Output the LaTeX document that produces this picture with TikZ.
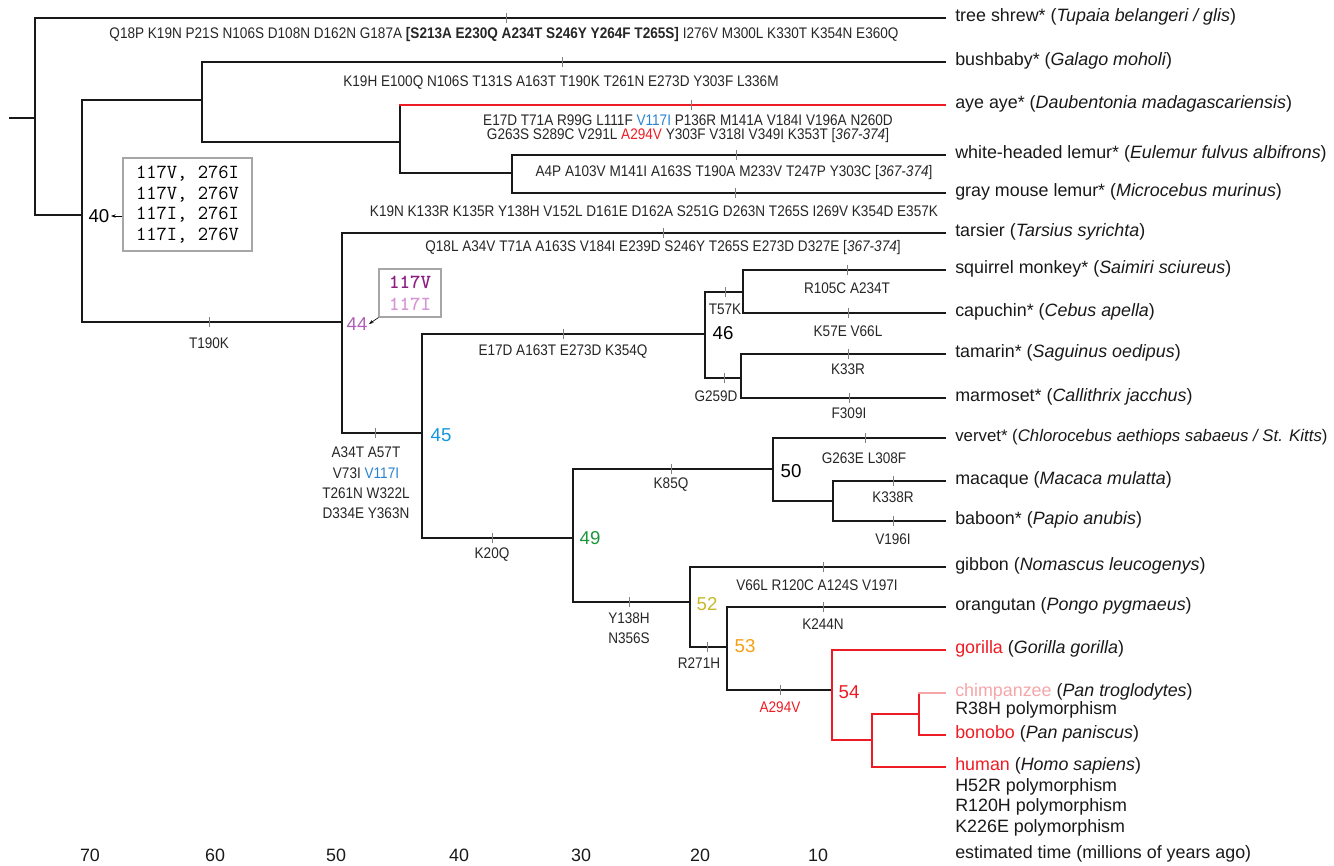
\documentclass[tikz,border=0pt]{standalone}
\usepackage{fontspec}
\setmainfont{Liberation Sans}
\newfontfamily\mutfont[FakeStretch=0.885]{Liberation Sans}
\usepackage{xcolor}
\usepackage{tikz}
\usetikzlibrary{arrows.meta}

\definecolor{hot}{RGB}{237,28,36}
\definecolor{chimp}{RGB}{244,166,168}
\definecolor{c44}{RGB}{176,96,182}
\definecolor{c117v}{RGB}{140,30,130}
\definecolor{c117i}{RGB}{214,150,214}
\definecolor{c45}{RGB}{20,150,220}
\definecolor{v117}{RGB}{40,130,210}
\definecolor{c49}{RGB}{30,150,60}
\definecolor{c52}{RGB}{200,185,40}
\definecolor{c53}{RGB}{245,160,20}

\begin{document}
\begin{tikzpicture}[x=0.75pt, y=-0.75pt,
      branch/.style={line width=1.9pt, line cap=rect, color=black!90},
      hotbranch/.style={branch, color=hot},
      tick/.style={gray, line width=0.6pt},
      leaf/.style={anchor=west, inner xsep=7.5pt, inner ysep=0pt,
        text height=0.73em, text depth=0.21em, text=black!90,
        font=\fontsize{13.4}{16}\selectfont},
      poly/.style={anchor=west, inner sep=0pt, text=black!90,
        font=\fontsize{13.4}{16}\selectfont},
      mut/.style={inner sep=0pt, align=center, text=black!85,
        font=\mutfont\fontsize{11.5}{13.5}\selectfont},
      num/.style={inner sep=1pt, font=\fontsize{14}{16}\selectfont},
      gbox/.style={draw=black!35, line width=0.9pt, align=left, inner sep=0pt},
      pointer/.style={-{Stealth[length=3.5pt,width=2.5pt]}, line width=0.5pt}]
  \useasboundingbox (0,0) rectangle (1334,865);

  % inner nodes of the tree
  \coordinate (stub) at (10,118);
  \coordinate (root) at (35,118);
  \coordinate (n40) at (82,215);
  \coordinate (nStrep) at (202,100);
  \coordinate (nLem) at (400,142);
  \coordinate (nLemur) at (512,173);
  \coordinate (n44) at (342,322);
  \coordinate (n45) at (422,433);
  \coordinate (n46) at (705,334);
  \coordinate (nSai) at (743,292);
  \coordinate (nCal) at (741,378);
  \coordinate (n49) at (573,538);
  \coordinate (n50) at (773,469);
  \coordinate (nPap) at (833,501);
  \coordinate (n52) at (690,602);
  \coordinate (n53) at (727,647);
  \coordinate (n54) at (832,690);
  \coordinate (nHom) at (872,740);
  \coordinate (nPan) at (919,714);

  % species
  \node[leaf] (shrew) at (945,18) {tree shrew* (\textit{Tupaia belangeri / glis})};
  \node[leaf] (bush) at (945,62) {bushbaby* (\textit{Galago moholi})};
  \node[leaf] (aye) at (945,105) {aye aye* (\textit{Daubentonia madagascariensis})};
  \node[leaf] (whl) at (945,155) {white-headed lemur* (\textit{Eulemur fulvus albifrons})};
  \node[leaf] (gml) at (945,193) {gray mouse lemur* (\textit{Microcebus murinus})};
  \node[leaf] (tars) at (945,233) {tarsier (\textit{Tarsius syrichta})};
  \node[leaf] (sqm) at (945,270) {squirrel monkey* (\textit{Saimiri sciureus})};
  \node[leaf] (cap) at (945,313) {capuchin* (\textit{Cebus apella})};
  \node[leaf] (tam) at (945,354) {tamarin* (\textit{Saguinus oedipus})};
  \node[leaf] (mar) at (945,398) {marmoset* (\textit{Callithrix jacchus})};
  \node[leaf, font=\fontsize{12.6}{16}\selectfont] (ver) at (945,438) {vervet* (\textit{Chlorocebus aethiops sabaeus / St. Kitts})};
  \node[leaf] (mac) at (945,481) {macaque (\textit{Macaca mulatta})};
  \node[leaf] (bab) at (945,521) {baboon* (\textit{Papio anubis})};
  \node[leaf] (gib) at (945,567) {gibbon (\textit{Nomascus leucogenys})};
  \node[leaf] (ora) at (945,607) {orangutan (\textit{Pongo pygmaeus})};
  \node[leaf] (gor) at (945,650) {\textcolor{hot}{gorilla} (\textit{Gorilla gorilla})};
  \node[leaf] (chi) at (945,693) {\textcolor{chimp}{chimpanzee} (\textit{Pan troglodytes})};
  \node[leaf] (bon) at (945,735) {\textcolor{hot}{bonobo} (\textit{Pan paniscus})};
  \node[leaf] (hum) at (945,767) {\textcolor{hot}{human} (\textit{Homo sapiens})};
  \node[poly] (p-chi) at (955,710) {R38H polymorphism};
  \node[poly] (p-hum1) at (955,787) {H52R polymorphism};
  \node[poly] (p-hum2) at (955,807) {R120H polymorphism};
  \node[poly] (p-hum3) at (955,828) {K226E polymorphism};

  % branches
  \draw[branch] (stub) -- (root);
  \draw[branch] (root) |- (shrew.west);
  \draw[branch] (root) |- (n40);
  \draw[branch] (n40) |- (nStrep);
  \draw[branch] (n40) |- (n44);
  \draw[branch] (nStrep) |- (bush.west);
  \draw[branch] (nStrep) |- (nLem);
  \draw[branch] (nLem) -- (nLem |- aye.west);
  \draw[hotbranch] (nLem |- aye.west) -- (aye.west);
  \draw[branch] (nLem) |- (nLemur);
  \draw[branch] (nLemur) |- (whl.west);
  \draw[branch] (nLemur) |- (gml.west);
  \draw[branch] (n44) |- (tars.west);
  \draw[branch] (n44) |- (n45);
  \draw[branch] (n45) |- (n46);
  \draw[branch] (n45) |- (n49);
  \draw[branch] (n46) |- (nSai);
  \draw[branch] (n46) |- (nCal);
  \draw[branch] (nSai) |- (sqm.west);
  \draw[branch] (nSai) |- (cap.west);
  \draw[branch] (nCal) |- (tam.west);
  \draw[branch] (nCal) |- (mar.west);
  \draw[branch] (n49) |- (n50);
  \draw[branch] (n49) |- (n52);
  \draw[branch] (n50) |- (ver.west);
  \draw[branch] (n50) |- (nPap);
  \draw[branch] (nPap) |- (mac.west);
  \draw[branch] (nPap) |- (bab.west);
  \draw[branch] (n52) |- (gib.west);
  \draw[branch] (n52) |- (n53);
  \draw[branch] (n53) |- (ora.west);
  \draw[branch] (n53) |- (n54);
  \draw[hotbranch] (n54) |- (gor.west);
  \draw[hotbranch] (n54) |- (nHom);
  \draw[hotbranch] (nHom) |- (nPan);
  \draw[hotbranch] (nHom) |- (hum.west);
  \draw[hotbranch] (nPan) -- (nPan |- chi.west);
  \draw[branch, color=chimp] (nPan |- chi.west) -- (chi.west);
  \draw[hotbranch] (nPan) |- (bon.west);

  % substitution marks
  \foreach \tx/\ty in {506/18, 562/62, 691/105, 736/155, 735/193, 663/233,
      209/322, 375/433, 563/334, 725/292, 847/270, 848/313, 724/378, 848/354,
      849/398, 492/538, 671/469, 865/438, 893/481, 893/521, 629/602, 823/567,
      707/647, 823/607, 780/690}
    \draw[tick] (\tx,\ty-5) -- (\tx,\ty+5);

  % substitutions
  \node[mut] (m-shrew) at (504,35) {Q18P K19N P21S N106S D108N D162N G187A \textbf{[S213A E230Q A234T S246Y Y264F T265S]} I276V M300L K330T K354N E360Q};
  \node[mut] (m-bush) at (561,83) {K19H E100Q N106S T131S A163T T190K T261N E273D Y303F L336M};
  \node[mut, font=\mutfont\fontsize{11.5}{10.2}\selectfont] (m-aye) at (688,129) {E17D T71A R99G L111F \textcolor{v117}{V117I} P136R M141A V184I V196A N260D\\
    G263S S289C V291L \textcolor{hot}{A294V} Y303F V318I V349I K353T [\textit{367-374}]};
  \node[mut] (m-whl) at (734,173) {A4P A103V M141I A163S T190A M233V T247P Y303C [\textit{367-374}]};
  \node[mut] (m-gml) at (654,211) {K19N K133R K135R Y138H V152L D161E D162A S251G D263N T265S I269V K354D E357K};
  \node[mut] (m-tars) at (663,248) {Q18L A34V T71A A163S V184I E239D S246Y T265S E273D D327E [\textit{367-374}]};
  \node[mut] (m-44) at (209,343) {T190K};
  \node[mut, font=\mutfont\fontsize{11.5}{15.2}\selectfont] (m-45) at (366,483) {A34T A57T\\V73I \textcolor{v117}{V117I}\\T261N W322L\\D334E Y363N};
  \node[mut] (m-46) at (563,352) {E17D A163T E273D K354Q};
  \node[mut] (m-sai) at (725,309) {T57K};
  \node[mut] (m-sqm) at (847,288) {R105C A234T};
  \node[mut] (m-cap) at (848,331) {K57E V66L};
  \node[mut] (m-cal) at (716,396) {G259D};
  \node[mut] (m-tam) at (848,369) {K33R};
  \node[mut] (m-mar) at (849,413) {F309I};
  \node[mut] (m-49) at (492,555) {K20Q};
  \node[mut] (m-50) at (671,485) {K85Q};
  \node[mut] (m-ver) at (864,458) {G263E L308F};
  \node[mut] (m-mac) at (893,497) {K338R};
  \node[mut] (m-bab) at (893,539) {V196I};
  \node[mut, font=\mutfont\fontsize{11.5}{15}\selectfont] (m-52) at (629,628) {Y138H\\N356S};
  \node[mut] (m-gib) at (817,585) {V66L R120C A124S V197I};
  \node[mut] (m-53) at (699,663) {R271H};
  \node[mut] (m-ora) at (823,624) {K244N};
  \node[mut, text=hot] (m-54) at (780,707) {A294V};

  % ancestral node numbers
  \node[num] (l40) at (99,216) {40};
  \node[num, text=c44] (l44) at (357,324) {44};
  \node[num, text=c45] (l45) at (441,435) {45};
  \node[num] (l46) at (723,333) {46};
  \node[num, text=c49] (l49) at (590,538) {49};
  \node[num] (l50) at (791,471) {50};
  \node[num, text=c52] (l52) at (707,604) {52};
  \node[num, text=c53] (l53) at (745,646) {53};
  \node[num, text=hot] (l54) at (849,692) {54};

  % reconstructed states
  \node[gbox, minimum width=96.75pt, minimum height=69.75pt,
    font=\fontsize{15}{15.4}\selectfont\ttfamily] (b40) at (187.5,204.5)
    {117V, 276I\\117V, 276V\\117I, 276I\\117I, 276V};
  \node[gbox, minimum width=46.5pt, minimum height=36pt,
    font=\fontsize{15}{16.3}\selectfont\ttfamily\bfseries] (b44) at (410,293)
    {\textcolor{c117v}{117V}\\\textcolor{c117i}{117I}};
  \draw[pointer] (b40.west |- l40.east) -- (l40.east);
  \draw[pointer] (b44.south west) -- (l44.east);

  % time axis
  \foreach \t/\tx in {70/90, 60/215, 50/336, 40/459, 30/581, 20/700, 10/818}
    \node[poly, anchor=center] (t\t) at (\tx,855) {\t};
  \node[leaf] (axis) at (945,855) {estimated time (millions of years ago)};
\end{tikzpicture}
\end{document}
